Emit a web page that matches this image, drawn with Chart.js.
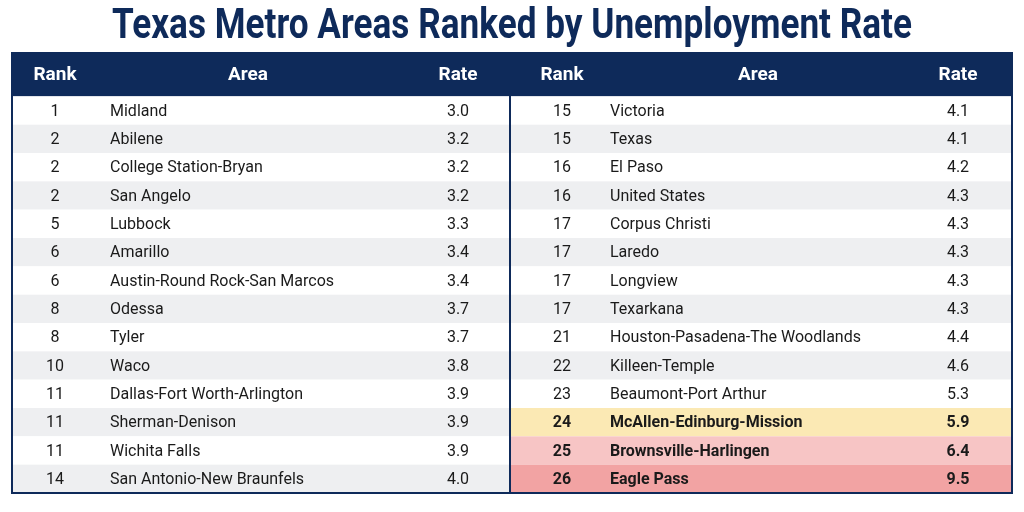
<!DOCTYPE html>
<html><head><meta charset="utf-8">
<script src="https://cdn.jsdelivr.net/npm/chart.js@4"></script>
<style>html,body{margin:0;padding:0;background:#fff}canvas{display:block}</style>
</head><body>
<canvas id="c" width="1024" height="512"></canvas>
<script>
const title = "Texas Metro Areas Ranked by Unemployment Rate";
const headers = ["Rank", "Area", "Rate"];
const leftRanks = [1,2,2,2,5,6,6,8,8,10,11,11,11,14];
const leftAreas = ["Midland","Abilene","College Station-Bryan","San Angelo","Lubbock","Amarillo","Austin-Round Rock-San Marcos","Odessa","Tyler","Waco","Dallas-Fort Worth-Arlington","Sherman-Denison","Wichita Falls","San Antonio-New Braunfels"];
const leftRates = [3.0,3.2,3.2,3.2,3.3,3.4,3.4,3.7,3.7,3.8,3.9,3.9,3.9,4.0];
const rightRanks = [15,15,16,16,17,17,17,17,21,22,23,24,25,26];
const rightAreas = ["Victoria","Texas","El Paso","United States","Corpus Christi","Laredo","Longview","Texarkana","Houston-Pasadena-The Woodlands","Killeen-Temple","Beaumont-Port Arthur","McAllen-Edinburg-Mission","Brownsville-Harlingen","Eagle Pass"];
const rightRates = [4.1,4.1,4.2,4.3,4.3,4.3,4.3,4.3,4.4,4.6,5.3,5.9,6.4,9.5];
const highlight = {11:"#fbe9b4", 12:"#f7c5c5", 13:"#f2a3a3"};

const NAVY = "#0e2a5a";
const HEAD = 1.53;
const FONT = "Roboto, 'Liberation Sans', sans-serif";

const tablePlugin = {
  id: 'table',
  beforeDatasetsDraw(chart) {
    const ctx = chart.ctx, xs = chart.scales.x, ys = chart.scales.y;
    const X = v => xs.getPixelForValue(v), Y = v => ys.getPixelForValue(v);
    ctx.save();
    let fs = 42;
    ctx.font = `bold ${fs}px ${FONT}`;
    const w = ctx.measureText(title).width;
    ctx.fillStyle = NAVY; ctx.textAlign = 'center'; ctx.textBaseline = 'middle';
    ctx.translate(512, 27);
    ctx.scale(800 / w, 1);
    ctx.fillText(title, 0, 0);
    ctx.restore();

    const panels = [
      {x0:0, x1:497, ranks:leftRanks, areas:leftAreas, rates:leftRates, rc:43, ax:98, hc:236, tc:446, hl:{}},
      {x0:499, x1:1000, ranks:rightRanks, areas:rightAreas, rates:rightRates, rc:550, ax:598, hc:746, tc:946, hl:highlight}
    ];
    ctx.save();
    panels.forEach(p => {
      ctx.fillStyle = NAVY;
      ctx.fillRect(X(p.x0), Y(0), X(p.x1)-X(p.x0), Y(HEAD)-Y(0));
      ctx.fillStyle = '#fff'; ctx.font = `bold 19px ${FONT}`;
      ctx.textAlign = 'center'; ctx.textBaseline = 'middle';
      const hy = (Y(0)+Y(HEAD))/2 + 1;
      ctx.fillText(headers[0], X(p.rc), hy);
      ctx.fillText(headers[1], X(p.hc), hy);
      ctx.fillText(headers[2], X(p.tc), hy);
      p.ranks.forEach((r, i) => {
        const y0 = Y(HEAD+i), y1 = Y(HEAD+i+1);
        ctx.fillStyle = p.hl[i] || (i % 2 ? '#eeeff1' : '#ffffff');
        ctx.fillRect(X(p.x0), y0, X(p.x1)-X(p.x0), y1-y0);
        const cy = (y0+y1)/2 + 1;
        const bold = p.hl[i] ? 'bold ' : '';
        ctx.font = `${bold}16px ${FONT}`;
        ctx.fillStyle = '#1a1a1a';
        ctx.textAlign = 'center';
        ctx.fillText(String(r), X(p.rc), cy);
        ctx.fillText(p.rates[i].toFixed(1), X(p.tc), cy);
        ctx.textAlign = 'left';
        ctx.fillText(p.areas[i], X(p.ax), cy);
      });
    });
    ctx.fillStyle = NAVY;
    ctx.fillRect(X(497), Y(0), X(499)-X(497), Y(HEAD+14)-Y(0));
    ctx.strokeStyle = NAVY; ctx.lineWidth = 2;
    ctx.strokeRect(X(0), Y(0), X(1000)-X(0), Y(HEAD+14)-Y(0));
    ctx.restore();
  }
};

new Chart(document.getElementById('c'), {
  type: 'scatter',
  data: { datasets: [{ data: [], pointRadius: 0 }] },
  options: {
    responsive: false, animation: false,
    layout: { padding: { top: 53, left: 12, right: 12, bottom: 19 } },
    plugins: { legend: {display:false}, tooltip: {enabled:false}, title: {display:false} },
    scales: {
      x: { type:'linear', min:0, max:1000, display:false },
      y: { type:'linear', min:0, max:HEAD+14, reverse:true, display:false }
    }
  },
  plugins: [tablePlugin]
});
</script>
</body></html>
